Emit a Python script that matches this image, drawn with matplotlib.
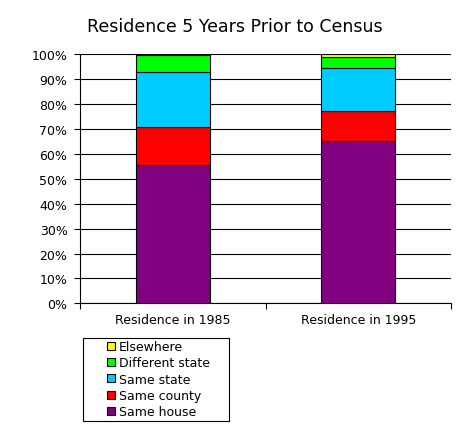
import matplotlib.pyplot as plt
from matplotlib.patches import Patch, Rectangle
import numpy as np

# data (percent of population)
years = ["Residence in 1985", "Residence in 1995"]
same_house = [55.4, 65.0]
same_county = [15.6, 12.3]
same_state = [21.8, 17.1]
different_state = [6.9, 4.4]
elsewhere = [0.3, 1.2]

series = [
    ("Same house", same_house, "#800080"),
    ("Same county", same_county, "#FF0000"),
    ("Same state", same_state, "#00CCFF"),
    ("Different state", different_state, "#00FF00"),
    ("Elsewhere", elsewhere, "#FFFF00"),
]

fig = plt.figure(figsize=(4.71, 4.27), dpi=100)
ax = fig.add_axes([80 / 471, 1 - 304.3 / 427, 371 / 471, 249 / 427])

x = np.arange(len(years))
bottom = np.zeros(len(years))
handles = []
for name, vals, color in series:
    ax.bar(x, vals, 0.4, bottom=bottom, color=color, edgecolor="black",
           linewidth=0.8, zorder=3)
    bottom += np.array(vals)
    handles.append(Patch(facecolor=color, edgecolor="black", linewidth=0.8,
                         label=name))

ax.set_xlim(-0.5, 1.5)
ax.set_ylim(0, 100)
ax.set_yticks(np.arange(0, 101, 10))
ax.set_yticklabels([f"{v}%" for v in range(0, 101, 10)], fontsize=9)
ax.yaxis.grid(True, color="black", linewidth=0.8, zorder=0)
ax.set_xticks(x)
ax.set_xticklabels(years, fontsize=9)
ax.set_xticks([-0.5, 0.5, 1.5], minor=True)
ax.tick_params(axis="x", which="major", length=0, pad=7)
ax.tick_params(axis="x", which="minor", length=4, width=0.8, direction="out")
ax.tick_params(axis="y", length=4, width=0.8, direction="out", pad=5)
ax.spines["top"].set_visible(False)
ax.spines["right"].set_visible(False)
ax.spines["left"].set_linewidth(0.8)
ax.spines["bottom"].set_linewidth(0.8)

fig.text(235 / 471, 1 - 31.7 / 427, "Residence 5 Years Prior to Census",
         fontsize=12.5, ha="center", va="baseline")

# legend, reversed order, with a separate plain frame
fig.legend(handles[::-1], [h.get_label() for h in handles[::-1]],
           loc="upper left", bbox_to_anchor=(106 / 471, 1 - 340 / 427),
           frameon=False, fontsize=9, handlelength=0.6, handleheight=0.6,
           handletextpad=0.35, labelspacing=0.26, borderpad=0.1,
           borderaxespad=0)
fig.add_artist(Rectangle((82.7 / 471, 1 - 422.3 / 427), 146.3 / 471, 83 / 427,
                         transform=fig.transFigure, fill=False,
                         edgecolor="black", linewidth=0.8))

fig.savefig("out.png", dpi=100)
